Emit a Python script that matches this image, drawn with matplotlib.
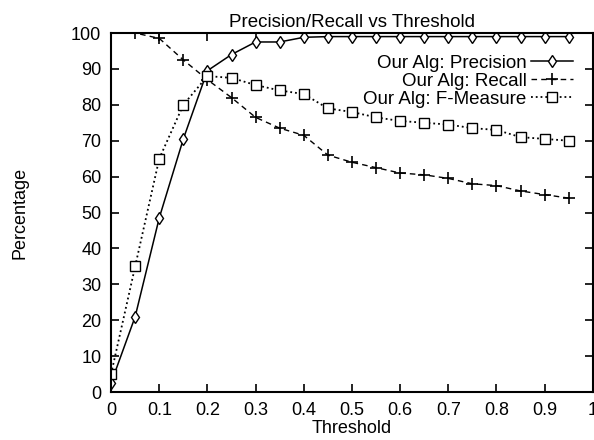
import matplotlib
matplotlib.use("Agg")
import matplotlib.pyplot as plt

plt.rcParams['font.family'] = ['Liberation Sans', 'DejaVu Sans']

threshold = [0.0, 0.05, 0.1, 0.15, 0.2, 0.25, 0.3, 0.35, 0.4, 0.45,
             0.5, 0.55, 0.6, 0.65, 0.7, 0.75, 0.8, 0.85, 0.9, 0.95]
precision = [2.5, 21, 48.5, 70.5, 89.5, 94, 97.5, 97.5, 98.8, 99,
             99, 99, 99, 99, 99, 99, 99, 99, 99, 99]
recall = [100, 100, 98.5, 92.5, 87, 82, 76.5, 73.5, 71.5, 66,
          64, 62.5, 61, 60.5, 59.5, 58, 57.5, 56, 55, 54]
fmeasure = [5, 35, 65, 80, 88, 87.5, 85.5, 84, 83, 79,
            78, 76.5, 75.5, 75, 74.5, 73.5, 73, 71, 70.5, 70]

fig = plt.figure(figsize=(5.94, 4.40), dpi=100)
ax = fig.add_axes([0.187, 0.109, 0.811, 0.816])

ax.plot(threshold, precision, '-', color='black', lw=1.1, marker='d',
        mfc='white', mec='black', ms=6.5, label='Our Alg: Precision')
ax.plot(threshold, recall, '--', color='black', lw=1.0, marker='+',
        ms=8, mew=1.2, dashes=(4, 3), label='Our Alg: Recall')
ax.plot(threshold, fmeasure, ':', color='black', lw=1.3, marker='s',
        mfc='white', mec='black', ms=6.5, label='Our Alg: F-Measure')

ax.set_xlim(0, 1)
ax.set_ylim(0, 100)
ax.set_xticks([0, 0.1, 0.2, 0.3, 0.4, 0.5, 0.6, 0.7, 0.8, 0.9, 1])
ax.set_xticklabels(['0', '0.1', '0.2', '0.3', '0.4', '0.5', '0.6', '0.7', '0.8', '0.9', '1'])
ax.set_yticks(range(0, 101, 10))
ax.tick_params(direction='in', top=True, right=True, length=6, width=1.2,
               labelsize=13, pad=7)
for s in ax.spines.values():
    s.set_linewidth(1.5)

ax.set_title('Precision/Recall vs Threshold', fontsize=13.5, pad=4)
ax.set_xlabel('Threshold', fontsize=13, labelpad=1)
ax.set_ylabel('Percentage', fontsize=13, labelpad=31)

ax.legend(loc='upper right', bbox_to_anchor=(0.958, 0.94), frameon=False, markerfirst=False,
          fontsize=13.5, handlelength=2.2, handletextpad=0.25, labelspacing=0.05,
          borderaxespad=0, borderpad=0)

fig.savefig('out.png', dpi=100)
